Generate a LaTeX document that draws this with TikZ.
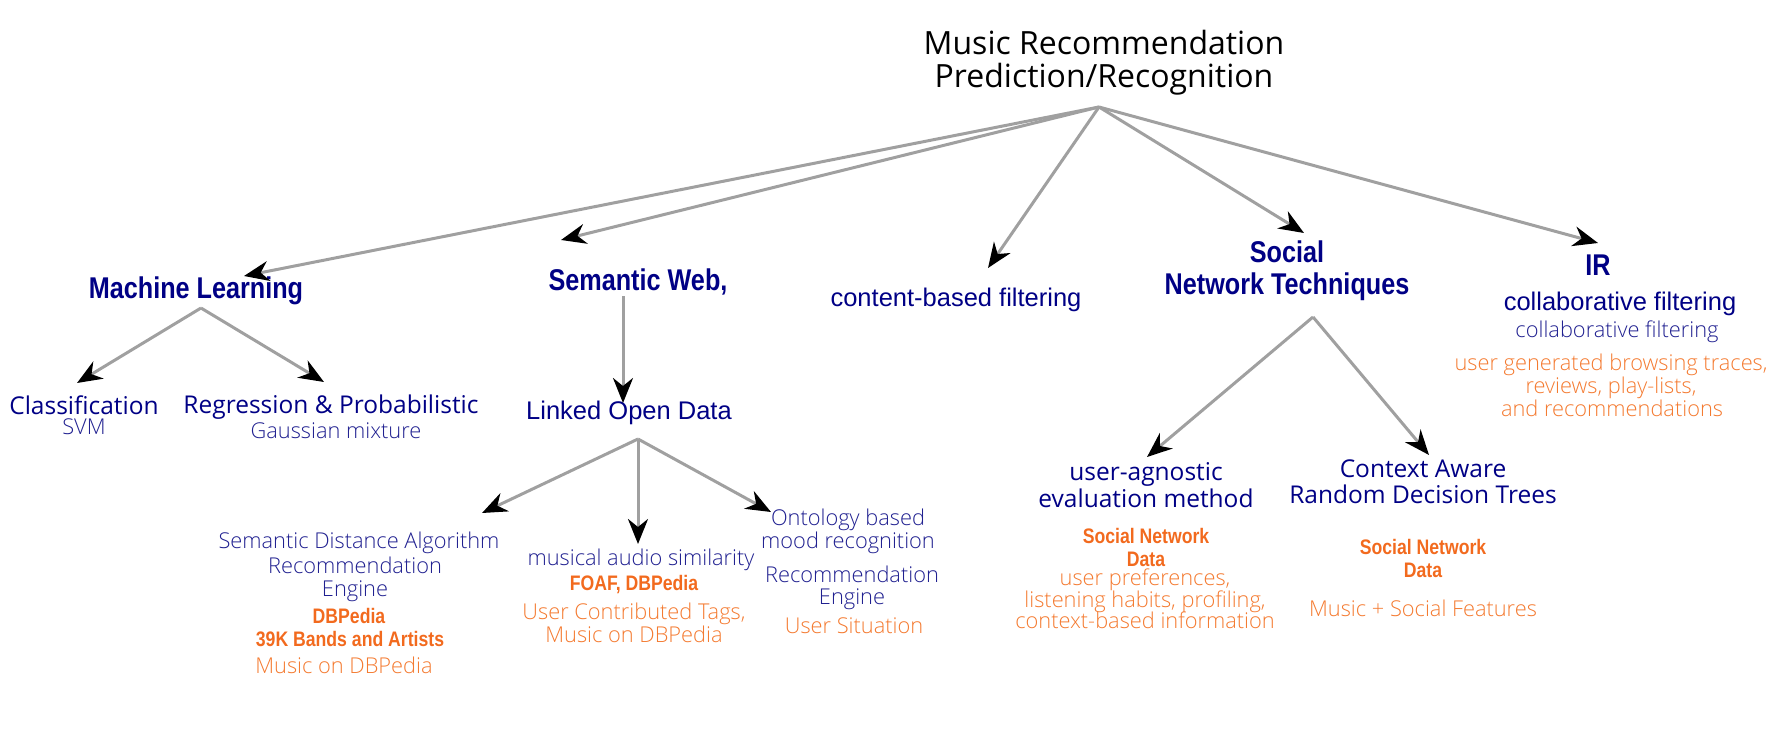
\documentclass[tikz,border=0pt]{standalone}
\usepackage{fontspec}
\usetikzlibrary{arrows.meta}
\setmainfont{Open Sans}
\newfontfamily\segf{Open Sans}
\newfontfamily\lightf{Open Sans Light}
\newfontfamily\headf[FakeStretch=0.84]{Liberation Sans}
\newfontfamily\bookf{Liberation Sans}
\definecolor{navy}{HTML}{000085}
\definecolor{lnavy}{HTML}{202090}
\definecolor{obold}{HTML}{F26A1E}
\definecolor{olight}{HTML}{F47A30}
\definecolor{lgray}{HTML}{A0A0A0}
\tikzset{
  conn/.style={draw=lgray, line width=3pt, -{Stealth[length=25pt,width=20pt,inset=8pt,color=black]}},
  txt/.style={anchor=base, inner sep=0pt},
  title/.style={txt, font=\segf\fontsize{32}{38}\selectfont, text=black},
  head/.style={txt, font=\headf\bfseries\fontsize{30}{36}\selectfont, text=navy},
  segtxt/.style={txt, font=\segf\fontsize{24.5}{28}\selectfont, text=navy},
  booktxt/.style={txt, font=\bookf\fontsize{25.5}{28}\selectfont, text=navy},
  lighttxt/.style={txt, font=\lightf\fontsize{21.8}{25}\selectfont, text=lnavy},
  obtxt/.style={txt, font=\headf\bfseries\fontsize{21}{25}\selectfont, text=obold},
  oltxt/.style={txt, font=\lightf\fontsize{21.8}{25}\selectfont, text=olight},
}
\begin{document}
\begin{tikzpicture}[x=1pt,y=-1pt]
\useasboundingbox (0,0) rectangle (1768,743);
% title
\node[title] (t1) at (1104,55) {Music Recommendation};
\node[title] (t2) at (1104,88) {Prediction/Recognition};
% level 1
\node[head] (ml) at (196,298) {Machine Learning};
\node[head] (sw) at (638,290) {Semantic Web,};
\node[booktxt] (cb) at (956,306) {content-based filtering};
\node[head] (sn1) at (1287,262) {Social};
\node[head] (sn2) at (1287,294) {Network Techniques};
\node[head] (ir) at (1598,275) {IR};
\node[booktxt] (cf1) at (1620,310) {collaborative filtering};
\node[lighttxt] (cf2) at (1617,337) {collaborative filtering};
\node[oltxt] (ug1) at (1611,370) {user generated browsing traces,};
\node[oltxt] (ug2) at (1611,393) {reviews, play-lists,};
\node[oltxt] (ug3) at (1612,416) {and recommendations};
% ML children
\node[segtxt] (cls) at (84,414) {Classification};
\node[lighttxt] (svm) at (84,434) {SVM};
\node[segtxt] (reg) at (331,413) {Regression \& Probabilistic};
\node[lighttxt] (gm) at (336,438) {Gaussian mixture};
% SW children
\node[booktxt] (lod) at (629,419) {Linked Open Data};
\node[lighttxt] (sd1) at (359,548) {Semantic Distance Algorithm};
\node[lighttxt] (sd2) at (355,573) {Recommendation};
\node[lighttxt] (sd3) at (355,596) {Engine};
\node[obtxt] (sd4) at (349,623) {DBPedia};
\node[obtxt] (sd5) at (350,646) {39K Bands and Artists};
\node[oltxt] (sd6) at (344,673) {Music on DBPedia};
\node[lighttxt] (ma1) at (641,565) {musical audio similarity};
\node[obtxt] (ma2) at (634,590) {FOAF, DBPedia};
\node[oltxt] (ma3) at (634,619) {User Contributed Tags,};
\node[oltxt] (ma4) at (634,642) {Music on DBPedia};
\node[lighttxt] (on1) at (848,525) {Ontology based};
\node[lighttxt] (on2) at (848,548) {mood recognition};
\node[lighttxt] (on3) at (852,582) {Recommendation};
\node[lighttxt] (on4) at (852,604) {Engine};
\node[oltxt] (on5) at (854,633) {User Situation};
% SN children
\node[segtxt] (ua1) at (1146,480) {user-agnostic};
\node[segtxt] (ua2) at (1146,507) {evaluation method};
\node[obtxt] (ua3) at (1146,543) {Social Network};
\node[obtxt] (ua4) at (1146,566) {Data};
\node[oltxt] (ua5) at (1145,585) {user preferences,};
\node[oltxt] (ua6) at (1145,607) {listening habits, profiling,};
\node[oltxt] (ua7) at (1145,628) {context-based information};
\node[segtxt] (ca1) at (1423,477) {Context Aware};
\node[segtxt] (ca2) at (1423,503) {Random Decision Trees};
\node[obtxt] (ca3) at (1423,554) {Social Network};
\node[obtxt] (ca4) at (1423,577) {Data};
\node[oltxt] (ca5) at (1423,616) {Music + Social Features};
% connector points
\coordinate (root) at (1099,107);
\coordinate (mlb) at (201,308);
\coordinate (swb) at (623,296);
\coordinate (lodb) at (638,439);
\coordinate (snb) at (1313,317);
\coordinate (tml) at (244,276);
\coordinate (tsw) at (561,240);
\coordinate (tcb) at (988,268);
\coordinate (tsn) at (1304,233);
\coordinate (tir) at (1598,243);
\coordinate (tcls) at (77,383);
\coordinate (treg) at (324,382);
\coordinate (tlod) at (623,403);
\coordinate (tsd) at (482,513);
\coordinate (tma) at (638,544);
\coordinate (ton) at (771,512);
\coordinate (tua) at (1147,457);
\coordinate (tca) at (1429,455);
% connectors
\draw[conn] (root) -- (tml);
\draw[conn] (root) -- (tsw);
\draw[conn] (root) -- (tcb);
\draw[conn] (root) -- (tsn);
\draw[conn] (root) -- (tir);
\draw[conn] (mlb) -- (tcls);
\draw[conn] (mlb) -- (treg);
\draw[conn] (swb) -- (tlod);
\draw[conn] (lodb) -- (tsd);
\draw[conn] (lodb) -- (tma);
\draw[conn] (lodb) -- (ton);
\draw[conn] (snb) -- (tua);
\draw[conn] (snb) -- (tca);
\end{tikzpicture}
\end{document}
